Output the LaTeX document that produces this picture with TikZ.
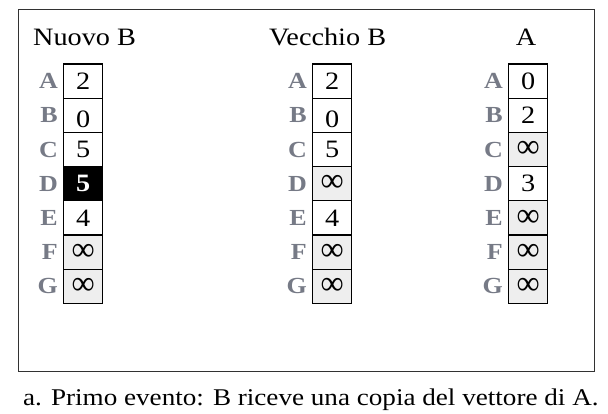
\documentclass[tikz,border=0pt]{standalone}
\usepackage{fontspec}
\usepackage{graphicx}
\setmainfont[FakeStretch=1.13]{Liberation Serif}
\definecolor{labgray}{RGB}{118,122,134}
\definecolor{inffill}{RGB}{238,238,238}
\definecolor{framegray}{RGB}{50,50,50}
\tikzset{
  cellbox/.style={draw=black, line width=1.2pt, minimum width=39pt, minimum height=34.2pt,
    inner sep=0pt, anchor=north west, font=\fontsize{25}{25}\selectfont, fill=white},
  infcell/.style={cellbox, fill=inffill},
  hlcell/.style={cellbox, fill=black, text=white, font=\bfseries\fontsize{25}{25}\selectfont},
  rowlab/.style={text=labgray, anchor=east, inner sep=0pt, font=\bfseries\fontsize{23}{23}\selectfont},
  coltitle/.style={anchor=base west, inner sep=0pt, font=\fontsize{25}{25}\selectfont},
  captext/.style={anchor=base west, inner sep=0pt, font=\fontsize{24}{24}\selectfont},
  outerframe/.style={draw=framegray, line width=1.5pt}
}
\newcommand{\lowzero}{\raisebox{-4pt}[\height][\depth]{0}}
\newcommand{\bigInf}{\scalebox{1.15}[1.35]{∞}}
\begin{document}
\begin{tikzpicture}[x=1pt,y=-1pt]
\useasboundingbox (0,0) rectangle (608,414);
\draw[outerframe] (18.5,9.5) rectangle (594.5,371.5);
% titles
\node[coltitle] (t1) at (33,45.5) {Nuovo B};
\node[coltitle] (t2) at (269,45.5) {Vecchio B};
\node[coltitle, anchor=base] (t3) at (526,45.5) {A};
% column 1: Nuovo B
\node[cellbox] (n1) at (63,63.5) {2};
\node[cellbox] (n2) at (63,97.7) {\lowzero};
\node[cellbox] (n3) at (63,131.9) {5};
\node[hlcell]  (n4) at (63,166.1) {5};
\node[cellbox] (n5) at (63,200.3) {4};
\node[infcell] (n6) at (63,234.5) {\bigInf};
\node[infcell] (n7) at (63,268.7) {\bigInf};
% column 2: Vecchio B
\node[cellbox] (v1) at (312,63.5) {2};
\node[cellbox] (v2) at (312,97.7) {\lowzero};
\node[cellbox] (v3) at (312,131.9) {5};
\node[infcell] (v4) at (312,166.1) {\bigInf};
\node[cellbox] (v5) at (312,200.3) {4};
\node[infcell] (v6) at (312,234.5) {\bigInf};
\node[infcell] (v7) at (312,268.7) {\bigInf};
% column 3: A
\node[cellbox] (a1) at (508,63.5) {0};
\node[cellbox] (a2) at (508,97.7) {2};
\node[infcell] (a3) at (508,131.9) {\bigInf};
\node[cellbox] (a4) at (508,166.1) {3};
\node[infcell] (a5) at (508,200.3) {\bigInf};
\node[infcell] (a6) at (508,234.5) {\bigInf};
\node[infcell] (a7) at (508,268.7) {\bigInf};
% row labels
\foreach \c in {n,v,a}{
  \foreach \r/\l in {1/A,2/B,3/C,4/D,5/E,6/F,7/G}{
    \node[rowlab] (l\c\r) at ([xshift=-5pt]\c\r.west) {\l};
  }
}
% caption
\node[captext] (cap) at (23,405) {a. Primo evento: B riceve una copia del vettore di A.};
\end{tikzpicture}
\end{document}
